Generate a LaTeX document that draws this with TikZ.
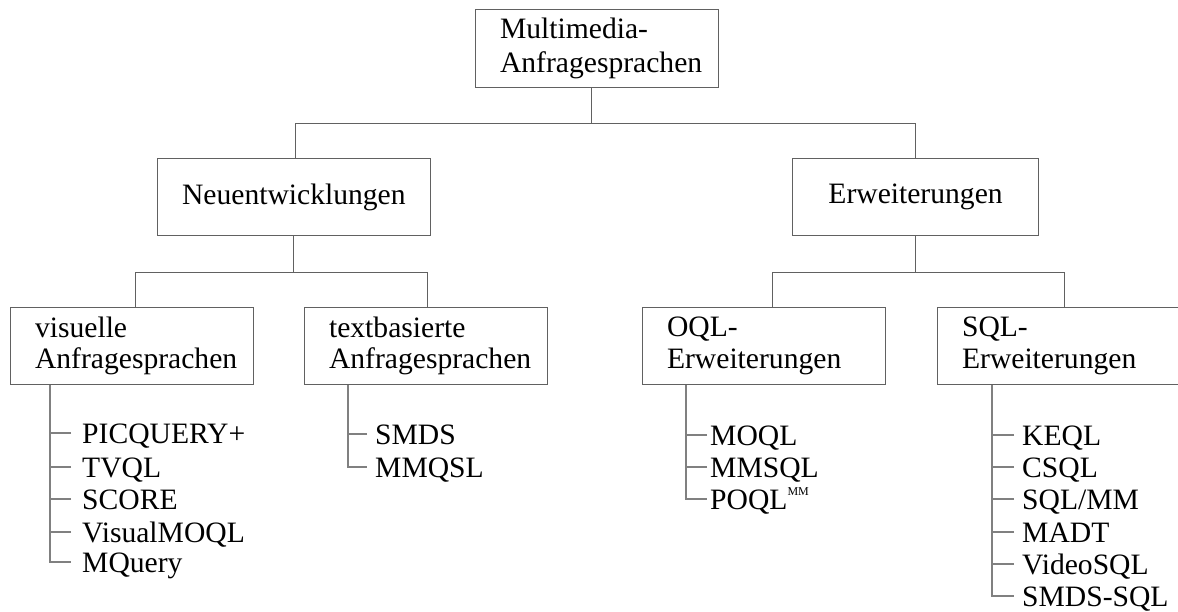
\documentclass[tikz,border=0pt]{standalone}
\usepackage{fontspec}
\setmainfont{Liberation Serif}
\begin{document}
\begin{tikzpicture}[x=1pt,y=-1pt,
  every node/.style={font=\fontsize{29.6}{31.5}\selectfont, text=black},
  box/.style={draw=black!62, line width=1.1pt, inner xsep=24.5pt, inner ysep=0pt,
              minimum height=77pt, anchor=north west},
  wbox/.style={box, minimum width=243pt},
  tbox/.style={box, text width=194pt, align=left},
  tree/.style={draw=black!62, line width=1.1pt},
  list/.style={draw=black!50, line width=1.1pt},
  item/.style={anchor=base west, inner sep=0pt}]
\useasboundingbox (0,0) rectangle (1178,612);
\clip (0,0) rectangle (1178,612);

% category boxes
\node[tbox, minimum height=78pt, font=\fontsize{29.6}{34}\selectfont] (top) at (475,9) {Multimedia-\\Anfragesprachen};
\node[wbox, minimum width=242pt] (neu) at (157,158) {Neuentwicklungen};
\node[wbox, minimum width=246pt] (erw) at (792,158) {Erweiterungen};
\node[tbox] (vis) at (10,307)  {visuelle\\Anfragesprachen};
\node[tbox] (tex) at (304,307) {textbasierte\\Anfragesprachen};
\node[tbox] (oql) at (642,307) {OQL-\\Erweiterungen};
\node[tbox] (sql) at (937,307) {SQL-\\Erweiterungen};

% tree connectors
\draw[tree] ([xshift=-6pt]top.south) -- ++(0,35) -| ([xshift=2pt]neu.north);
\draw[tree] ([xshift=-6pt]top.south) -- ++(0,35) -| (erw.north);
\draw[tree] (neu.south) -- ++(0,36) -| ([xshift=3pt]vis.north);
\draw[tree] (neu.south) -- ++(0,36) -| ([xshift=1.5pt]tex.north);
\draw[tree] (erw.south) -- ++(0,36) -| ([xshift=8pt]oql.north);
\draw[tree] (erw.south) -- ++(0,36) -| ([xshift=5pt]sql.north);

% visual query languages
\node[item] (picquery)   at (82,443) {PICQUERY+};
\node[item] (tvql)       at (82,477) {TVQL};
\node[item] (score)      at (82,509) {SCORE};
\node[item] (visualmoql) at (82,542) {VisualMOQL};
\node[item] (mquery)     at (82,572) {MQuery};
\draw[list] ([xshift=40pt]vis.south west) |- ([xshift=-11pt,yshift=10pt]mquery.base west);
\foreach \n in {picquery,tvql,score,visualmoql}
  \draw[list] ([xshift=-11pt,yshift=10pt]\n.base west) -- ++(-21,0);

% text-based query languages
\node[item] (smds)  at (375,444) {SMDS};
\node[item] (mmqsl) at (375,477) {MMQSL};
\draw[list] ([xshift=44pt]tex.south west) |- ([xshift=-8pt,yshift=10pt]mmqsl.base west);
\draw[list] ([xshift=-8pt,yshift=10pt]smds.base west) -- ++(-19,0);

% OQL extensions
\node[item] (moql)  at (710,445) {MOQL};
\node[item] (mmsql) at (710,477) {MMSQL};
\node[item] (poql)  at (710,509) {POQL\raisebox{14pt}{\fontsize{12}{12}\selectfont MM}};
\draw[list] ([xshift=44pt]oql.south west) |- ([xshift=-3pt,yshift=10pt]poql.base west);
\foreach \n in {moql,mmsql}
  \draw[list] ([xshift=-3pt,yshift=10pt]\n.base west) -- ++(-21,0);

% SQL extensions
\node[item] (keql)     at (1022,445) {KEQL};
\node[item] (csql)     at (1022,477) {CSQL};
\node[item] (sqlmm)    at (1022,509) {SQL/MM};
\node[item] (madt)     at (1022,542) {MADT};
\node[item] (videosql) at (1022,574) {VideoSQL};
\node[item] (smdssql)  at (1022,606) {SMDS-SQL};
\draw[list] ([xshift=55pt]sql.south west) |- ([xshift=-8pt,yshift=10pt]smdssql.base west);
\foreach \n in {keql,csql,sqlmm,madt,videosql}
  \draw[list] ([xshift=-8pt,yshift=10pt]\n.base west) -- ++(-22,0);
\end{tikzpicture}
\end{document}
